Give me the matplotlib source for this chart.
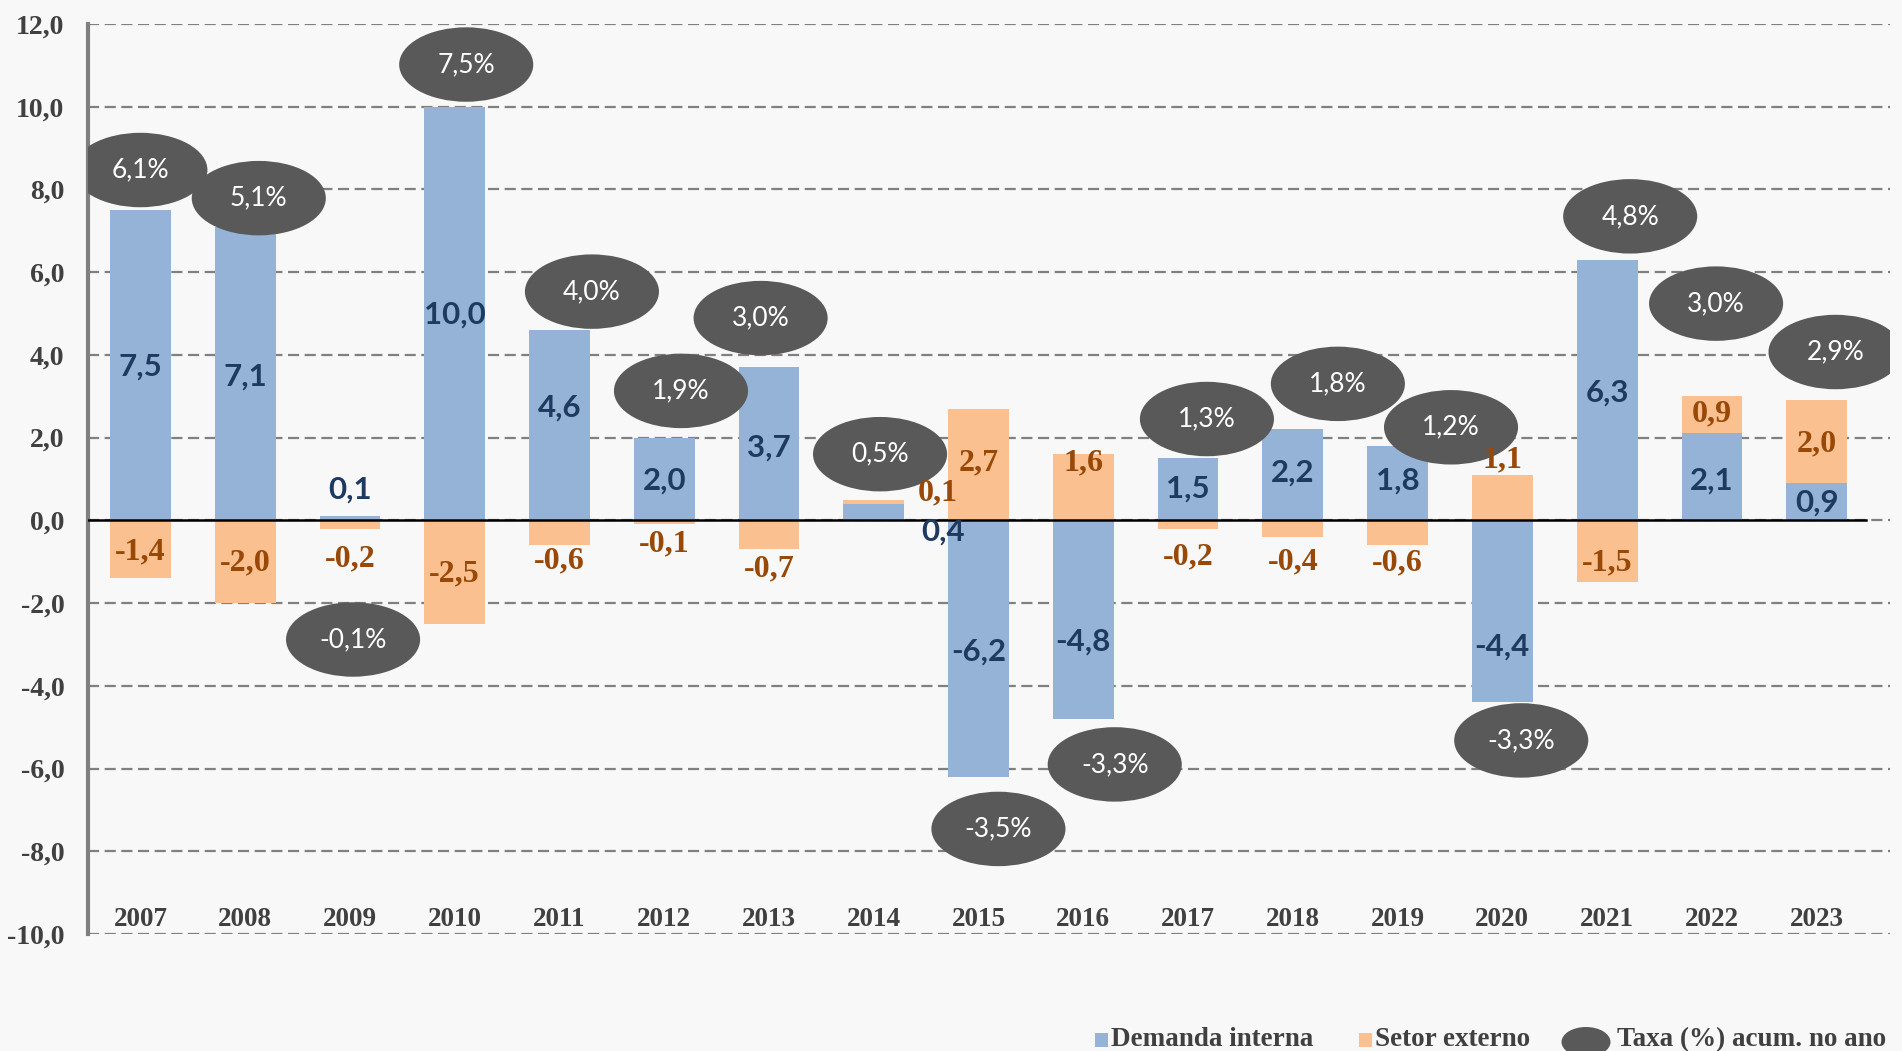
import numpy as np
import matplotlib
matplotlib.use("Agg")
import matplotlib.pyplot as plt
from matplotlib.patches import Ellipse, Rectangle

# ---- data ----
years = ["2007", "2008", "2009", "2010", "2011", "2012", "2013", "2014", "2015",
         "2016", "2017", "2018", "2019", "2020", "2021", "2022", "2023"]
demanda = [7.5, 7.1, 0.1, 10.0, 4.6, 2.0, 3.7, 0.4, -6.2, -4.8, 1.5, 2.2, 1.8, -4.4, 6.3, 2.1, 0.9]
setor = [-1.4, -2.0, -0.2, -2.5, -0.6, -0.1, -0.7, 0.1, 2.7, 1.6, -0.2, -0.4, -0.6, 1.1, -1.5, 0.9, 2.0]
taxa = [6.1, 5.1, -0.1, 7.5, 4.0, 1.9, 3.0, 0.5, -3.5, -3.3, 1.3, 1.8, 1.2, -3.3, 4.8, 3.0, 2.9]

# ---- label layout (as placed in the original chart) ----
dem_lab_y = [3.71, 3.48, 0.75, 4.97, 2.72, 0.96, 1.75, -0.27, -3.18, -2.94, 0.78, 1.16, 0.96, -3.06, 3.09, 0.96, 0.43]
dem_lab_dx = [0] * 7 + [0.66] + [0] * 9
set_lab_y = [-0.77, -1.04, -0.92, -1.30, -0.98, -0.57, -1.18, 0.66, 1.40, 1.40, -0.89, -1.0, -1.04, 1.46, -1.04, 2.57, 1.84]
set_lab_dx = [0] * 7 + [0.61] + [0] * 9
ell_dx = [0.0, 0.13, 0.03, 0.11, 0.31, 0.16, -0.08, 0.06, 0.19, 0.30, 0.18, 0.43, 0.51, 0.18, 0.22, 0.04, 0.18]
ell_y = [8.47, 7.79, -2.88, 11.02, 5.53, 3.13, 4.89, 1.60, -7.46, -5.90, 2.45, 3.30, 2.25, -5.32, 7.35, 5.24, 4.07]

BLUE = "#95b3d7"
ORANGE = "#fac090"
BLUE_TXT = "#1f3a60"
ORANGE_TXT = "#984807"
GREY_ELL = "#595959"
TXT = "#404040"
BG = "#f8f8f8"
SERIF = "Liberation Serif"
SANS = "Lato"

W, H = 1902, 1051


def fmt(v):
    return ("%.1f" % v).replace(".", ",")


fig = plt.figure(figsize=(W / 100, H / 100), dpi=100, facecolor=BG)
ax = fig.add_axes([88 / W, 1 - 934 / H, (1890 - 88) / W, (934 - 24) / H])
ax.set_facecolor(BG)

x = np.arange(len(years))
dem = np.array(demanda)
st = np.array(setor)
st_bottom = np.where(np.sign(st) == np.sign(dem), dem, 0.0)

w = 0.58
ax.bar(x, dem, width=w, color=BLUE, zorder=2)
ax.bar(x, st, width=w, bottom=st_bottom, color=ORANGE, zorder=2)

ax.set_xlim(-0.5, 16.7)
ax.set_ylim(-10, 12)
yt = np.arange(-10, 12.1, 2)
ax.set_yticks(yt)
ax.set_yticklabels([fmt(v) for v in yt], fontfamily=SERIF,
                   fontweight="bold", fontsize=20, color=TXT)
ax.tick_params(axis="y", length=0, pad=17)
ax.set_xticks([])
ax.yaxis.grid(True, color="#808080", lw=1.6, ls=(0, (5, 2.5)), zorder=0)
ax.set_axisbelow(True)
for s in ["top", "right", "bottom"]:
    ax.spines[s].set_visible(False)
ax.spines["left"].set_color("#7f7f7f")
ax.spines["left"].set_linewidth(3)

ax.axhline(0, xmin=0, xmax=(16.47 + 0.5) / 17.2, color="black", lw=1.8, zorder=3)

# year labels inside the plot
for i, yr in enumerate(years):
    ax.text(i, -9.95, yr, ha="center", va="bottom", fontfamily=SERIF,
            fontweight="bold", fontsize=19.5, color=TXT, zorder=4)

# taxa ellipses
for i in range(len(years)):
    ax.add_patch(Ellipse((i + ell_dx[i], ell_y[i]), width=1.28, height=1.8,
                         facecolor=GREY_ELL, edgecolor="none", zorder=5))
    ax.text(i + ell_dx[i], ell_y[i], fmt(taxa[i]) + "%", ha="center", va="center",
            fontfamily=SANS, fontsize=19, color="white", zorder=6)

# bar value labels (drawn above everything, like the original)
for i in range(len(years)):
    ax.text(i + dem_lab_dx[i], dem_lab_y[i], fmt(demanda[i]), ha="center", va="center",
            fontfamily=SANS, fontweight="bold", fontsize=22.5, color=BLUE_TXT, zorder=7)
    ax.text(i + set_lab_dx[i], set_lab_y[i], fmt(setor[i]), ha="center", va="center",
            fontfamily=SERIF, fontweight="bold", fontsize=23, color=ORANGE_TXT, zorder=7)

# legend (drawn by hand in figure pixels to match the original layout)
ly = 1 - 1040 / H
fig.add_artist(Rectangle((1095 / W, ly - 7 / H), 13 / W, 14 / H, transform=fig.transFigure,
                         facecolor=BLUE, edgecolor="none"))
fig.text(1111 / W, ly, "Demanda interna", ha="left", va="center", fontfamily=SERIF,
         fontweight="bold", fontsize=19.5, color=TXT)
fig.add_artist(Rectangle((1359 / W, ly - 7 / H), 13 / W, 14 / H, transform=fig.transFigure,
                         facecolor=ORANGE, edgecolor="none"))
fig.text(1375 / W, ly, "Setor externo", ha="left", va="center", fontfamily=SERIF,
         fontweight="bold", fontsize=19.5, color=TXT)
fig.add_artist(Ellipse((1586 / W, 1 - 1042 / H), 49 / W, 30 / H, transform=fig.transFigure,
                       facecolor=GREY_ELL, edgecolor="none"))
fig.text(1617 / W, ly, "Taxa (%) acum. no ano", ha="left", va="center", fontfamily=SERIF,
         fontweight="bold", fontsize=19.5, color=TXT)

fig.savefig("out.png", dpi=100, facecolor=BG)
